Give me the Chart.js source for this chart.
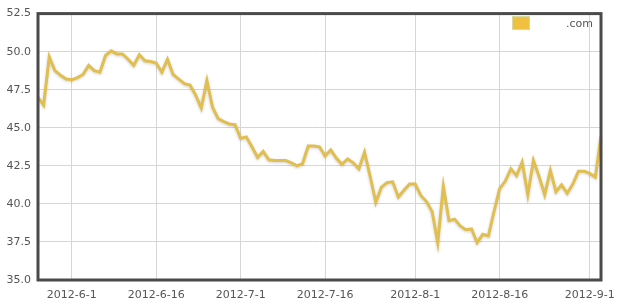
<!DOCTYPE html>
<html>
<head>
<meta charset="utf-8">
<script src="https://cdn.jsdelivr.net/npm/chart.js@4/dist/chart.umd.min.js"></script>
<style>
  body { margin: 0; background: #fff; }
  canvas { display: block; }
</style>
</head>
<body>
<canvas id="priceChart" width="628" height="307"></canvas>
<script>
// daily dates from 2012-5-26 to 2012-9-3
const startDate = new Date(2012, 4, 26);
const dayCount = 101;
const dates = [];
for (let i = 0; i < dayCount; i++) {
  const d = new Date(startDate.getFullYear(), startDate.getMonth(), startDate.getDate() + i);
  dates.push(`${d.getFullYear()}-${d.getMonth() + 1}-${d.getDate()}`);
}

const seriesLabel = '      .com';
const prices = [
  47.0, 46.5, 49.65, 48.75, 48.45, 48.2, 48.15, 48.3, 48.5, 49.1,
  48.75, 48.65, 49.75, 50.05, 49.85, 49.85, 49.5, 49.1, 49.8, 49.4,
  49.35, 49.25, 48.65, 49.5, 48.5, 48.2, 47.9, 47.8, 47.15, 46.3,
  48.1, 46.35, 45.6, 45.4, 45.25, 45.2, 44.3, 44.4, 43.75, 43.05,
  43.45, 42.9, 42.85, 42.85, 42.85, 42.7, 42.5, 42.65, 43.8, 43.8,
  43.75, 43.15, 43.55, 43.0, 42.6, 42.95, 42.7, 42.3, 43.4, 41.8,
  40.1, 41.1, 41.4, 41.45, 40.45, 40.9, 41.3, 41.3, 40.55, 40.15,
  39.5, 37.45, 41.15, 38.9, 39.0, 38.55, 38.3, 38.35, 37.45, 38.0,
  37.9, 39.5, 41.0, 41.5, 42.3, 41.85, 42.75, 40.6, 42.85, 41.8,
  40.6, 42.2, 40.8, 41.25, 40.7, 41.3, 42.15, 42.15, 42.0, 41.75,
  44.45
];
const tickDays = ['1', '16'];
const yTicks = [35.0, 37.5, 40.0, 42.5, 45.0, 47.5, 50.0, 52.5];

const lineColor = '#e0be50';

// dark frame around plot area + legend in upper right
const framePlugin = {
  id: 'frame',
  beforeDatasetsDraw(chart) {
    const ctx = chart.ctx;
    ctx.save();
    ctx.shadowColor = 'rgba(0,0,0,0.18)';
    ctx.shadowBlur = 3;
    ctx.shadowOffsetY = 1;
  },
  afterDatasetsDraw(chart) {
    const ctx = chart.ctx;
    ctx.restore();
    const a = chart.chartArea;
    ctx.save();
    ctx.strokeStyle = '#4a4a4a';
    ctx.lineWidth = 3;
    ctx.strokeRect(a.left, a.top, a.right - a.left, a.bottom - a.top);

    // legend
    ctx.fillStyle = '#f0c040';
    ctx.fillRect(513, 17, 16, 12);
    ctx.strokeStyle = '#d9d9a0';
    ctx.lineWidth = 1;
    ctx.strokeRect(512.5, 16.5, 17, 13);
    ctx.fillStyle = '#555';
    ctx.font = '11px "DejaVu Sans", Verdana, sans-serif';
    ctx.textAlign = 'right';
    ctx.textBaseline = 'middle';
    ctx.fillText(chart.data.datasets[0].label, 593, 24);
    ctx.restore();
  }
};

const ctx = document.getElementById('priceChart').getContext('2d');
new Chart(ctx, {
  type: 'line',
  data: {
    labels: dates,
    datasets: [{
      label: seriesLabel,
      data: prices,
      borderColor: lineColor,
      borderWidth: 3,
      pointRadius: 0,
      tension: 0,
      fill: false
    }]
  },
  options: {
    responsive: false,
    animation: false,
    layout: { padding: { top: 8, right: 27, left: 0, bottom: 0 } },
    plugins: {
      legend: { display: false },
      tooltip: { enabled: false }
    },
    scales: {
      x: {
        type: 'category',
        offset: false,
        afterBuildTicks: (scale) => {
          scale.ticks = scale.ticks.filter(t => tickDays.includes(dates[t.value].split('-')[2]));
        },
        afterFit: (scale) => { scale.height = 27; },
        grid: { color: '#d6d6d6', drawTicks: false },
        border: { display: false },
        ticks: {
          autoSkip: false,
          maxRotation: 0,
          padding: 9,
          color: '#555',
          font: { family: '"DejaVu Sans", Verdana, sans-serif', size: 11 }
        }
      },
      y: {
        min: yTicks[0],
        max: yTicks[yTicks.length - 1],
        afterBuildTicks: (scale) => {
          scale.ticks = yTicks.map(v => ({ value: v }));
        },
        afterFit: (scale) => { scale.width = 38; },
        grid: { color: '#d6d6d6', drawTicks: false },
        border: { display: false },
        ticks: {
          padding: 7,
          color: '#555',
          font: { family: '"DejaVu Sans", Verdana, sans-serif', size: 11 },
          callback: (v) => Number(v).toFixed(1)
        }
      }
    }
  },
  plugins: [framePlugin]
});
</script>
</body>
</html>
